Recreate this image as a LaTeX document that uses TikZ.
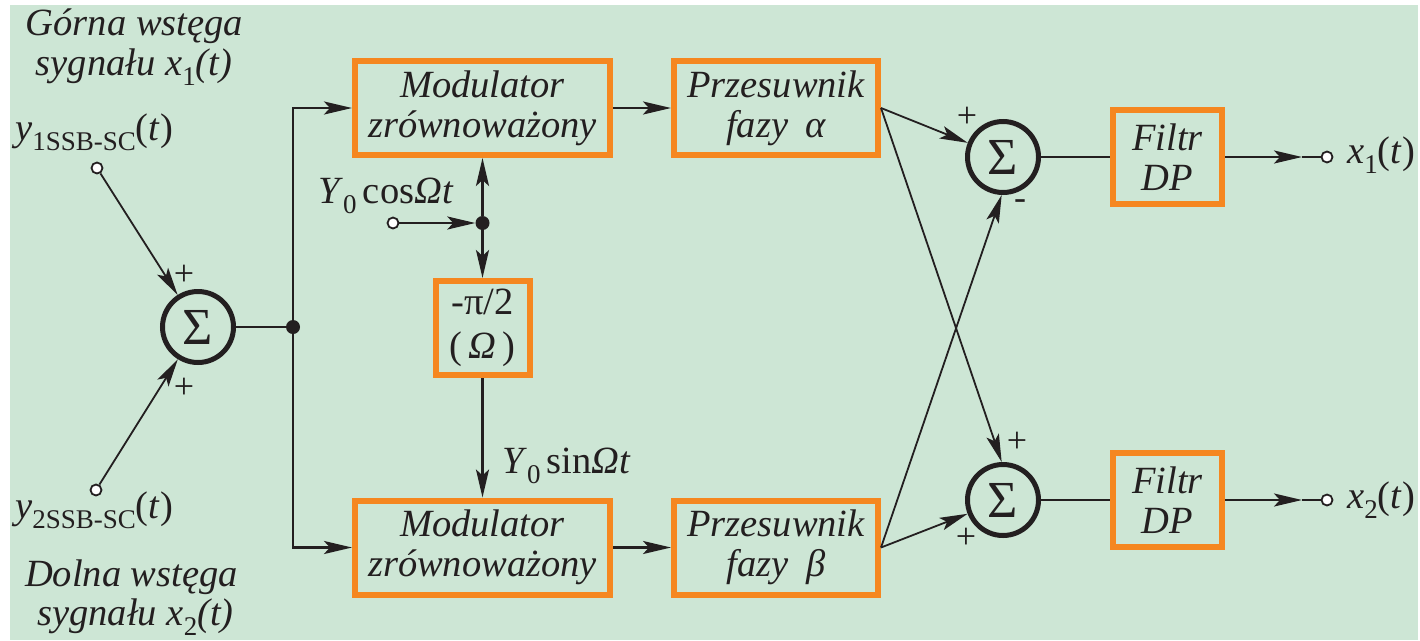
\documentclass[tikz,border=0pt]{standalone}
\usepackage{fontspec}
\setmainfont{LiberationSerif}[Extension=.ttf,
  UprightFont=*-Regular, ItalicFont=*-Italic,
  BoldFont=*-Bold, BoldItalicFont=*-BoldItalic]
\usetikzlibrary{arrows.meta}
\definecolor{bggreen}{RGB}{205,230,213}
\definecolor{boxorange}{RGB}{245,135,32}
\definecolor{ink}{RGB}{35,31,32}
% lowered index for signal names
\newcommand\lowidx[1]{\raisebox{-0.28em}{\upshape\fontsize{27}{27}\selectfont #1}}
\begin{document}
\begin{tikzpicture}[x=1pt,y=-1pt,
  font=\fontsize{38.5}{40}\selectfont,
  >={Stealth[length=28pt,width=13pt,inset=6pt]},
  blk/.style={draw=boxorange, line width=6pt, align=center, inner sep=0pt,
    text=ink, minimum height=94pt, font=\fontsize{38.5}{40}\selectfont\itshape},
  summer/.style={circle, draw=ink, line width=5pt, minimum size=71pt, inner sep=0pt,
    text=ink, font=\fontsize{52}{52}\selectfont},
  term/.style={circle, draw=ink, line width=1.8pt, fill=white, minimum size=11pt, inner sep=0pt},
  jdot/.style={circle, fill=ink, minimum size=14pt, inner sep=0pt},
  wire/.style={draw=ink, line width=2.6pt},
  thinwire/.style={draw=ink, line width=1.8pt},
  lbl/.style={text=ink, inner sep=0pt},
  sign/.style={text=ink, inner sep=0pt, font=\fontsize{36}{36}\selectfont}
]
\useasboundingbox (0,0) rectangle (1420,640);
\fill[white] (0,0) rectangle (1420,640);
\fill[bggreen] (10,5) rectangle (1418,640);

% side captions
\node[lbl, anchor=base] (capA1) at (134.5,35) {\itshape Górna wstęga};
\node[lbl, anchor=base] (capA2) at (134,75) {\itshape sygnału \textit{x}\lowidx{1}(\textit{t})};
\node[lbl, anchor=base] (capB1) at (131.5,586) {\itshape Dolna wstęga};
\node[lbl, anchor=base] (capB2) at (135.5,625) {\itshape sygnału \textit{x}\lowidx{2}(\textit{t})};
\node[lbl, anchor=base west] (inA) at (15,140) {\textit{y}\lowidx{1SSB-SC}(\textit{t})};
\node[lbl, anchor=base west] (inB) at (15,518) {\textit{y}\lowidx{2SSB-SC}(\textit{t})};

% input terminals and first adder
\node[term] (y1) at (97,168) {};
\node[term] (y2) at (96,490) {};
\node[summer] (sumL) at (198,327) {Σ};
\node[sign] (pL1) at (184,275) {+};
\node[sign] (pL2) at (184,388) {+};
\node[jdot] (jL) at (293,327) {};

% modulators and phase shifters
\node[blk, minimum width=255pt] (modA) at (482.5,108) {Modulator\\zrównoważony};
\node[blk, minimum width=255pt] (modB) at (482.5,547.5) {Modulator\\zrównoważony};
\node[blk, minimum width=204pt] (phA) at (776,108) {Przesuwnik\\fazy\hspace{0.45em}α};
\node[blk, minimum width=204pt] (phB) at (776,547.5) {Przesuwnik\\fazy\hspace{0.45em}β};

% carrier branch
\node[term] (tc) at (393,223) {};
\node[jdot] (jc) at (482.5,223) {};
\node[lbl, anchor=base west] (cosl) at (318,203) {\textit{Y}\lowidx{0}\,cos\textit{Ω}\textit{t}};
\node[blk, minimum width=94pt, font=\fontsize{38.5}{44}\selectfont] (pib) at (482.5,328) {-π/2\\(\,\textit{Ω}\,)};
\node[lbl, anchor=base west] (sinl) at (502,473) {\textit{Y}\lowidx{0}\,sin\textit{Ω}\textit{t}};

% output adders and filters
\node[summer] (sumT) at (1003,157) {Σ};
\node[summer] (sumB) at (1003,500) {Σ};
\node[sign] (pT1) at (967,117) {+};
\node[sign] (mT2) at (1020,205) {-};
\node[sign] (pB1) at (1017,442) {+};
\node[sign] (pB2) at (966,538) {+};
\node[blk, minimum width=109pt] (fT) at (1167.5,157) {Filtr\\DP};
\node[blk, minimum width=109pt] (fB) at (1167.5,500) {Filtr\\DP};
\coordinate (aT) at (1302,157);
\coordinate (aB) at (1302,500);
\node[term] (oT) at (1327,157) {};
\node[term] (oB) at (1327,500) {};
\node[lbl, anchor=base west] (outA) at (1347,163) {\textit{x}\lowidx{1}(\textit{t})};
\node[lbl, anchor=base west] (outB) at (1347,508) {\textit{x}\lowidx{2}(\textit{t})};

% connections
\draw[thinwire,->] (y1) -- (sumL);
\draw[thinwire,->] (y2) -- (sumL);
\draw[wire] (sumL) -- (jL);
\draw[wire,->] (jL) |- (modA);
\draw[wire,->] (jL) |- (modB);
\draw[wire,->] (modA) -- (phA);
\draw[wire,->] (modB) -- (phB);
\draw[wire,->] (tc) -- (jc);
\draw[wire,->] (jc) -- (modA);
\draw[wire,->] (jc) -- (pib);
\draw[wire,->] (pib) -- (modB);
\draw[thinwire,->] (phA.east) -- (sumT);
\draw[thinwire,->] (phA.east) -- (sumB.92);
\draw[thinwire,->] (phB.east) -- (sumB);
\draw[thinwire,->] (phB.east) -- (sumT.268);
\draw[wire] (sumT) -- (fT);
\draw[wire] (sumB) -- (fB);
\draw[wire,->] (fT) -- (aT);
\draw[wire] (aT) -- (oT);
\draw[wire,->] (fB) -- (aB);
\draw[wire] (aB) -- (oB);
\end{tikzpicture}
\end{document}
